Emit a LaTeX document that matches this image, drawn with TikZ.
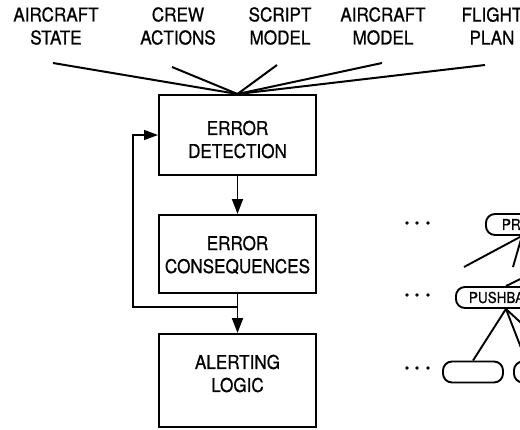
\documentclass[tikz,border=0pt]{standalone}
\usepackage{fontspec}
\setmainfont{TeX Gyre Heros}[FakeStretch=0.9,FakeBold=0.8]
\usetikzlibrary{arrows.meta}

\begin{document}
\begin{tikzpicture}[x=1pt,y=-1pt,
  lbl/.style={align=center,inner sep=0pt,font=\fontsize{19}{23}\selectfont},
  blk/.style={draw,line width=2pt,minimum width=157pt,inner sep=0pt},
  fan/.style={line width=2pt},
  arr/.style={line width=1.8pt,-{Triangle[length=15pt,width=11pt]}},
  fb/.style={line width=1.4pt,-{Triangle[length=14pt,width=10pt]}},
  pill/.style={draw,line width=1.9pt,rounded corners=9pt,minimum height=21pt,
    inner ysep=0pt,align=left,font=\fontsize{15}{16}\selectfont},
  branch/.style={line width=1.9pt},
  dot/.style={fill=black}]
\useasboundingbox (0,0) rectangle (520,429);
\clip (0,0) rectangle (520,429);

% input labels
\node[lbl] (in1) at (56,26)  {AIRCRAFT\\STATE};
\node[lbl] (in2) at (178,26) {CREW\\ACTIONS};
\node[lbl] (in3) at (280,26) {SCRIPT\\MODEL};
\node[lbl] (in4) at (383,26) {AIRCRAFT\\MODEL};
\node[lbl] (in5) at (492,26) {FLIGHT\\PLAN};

% processing blocks
\node[blk,minimum height=80pt] (det) at (237.5,135) {};
\node[lbl] (dett) at (237.5,139.5) {ERROR\\DETECTION};
\node[blk,minimum height=78pt] (con) at (237.5,254) {};
\node[lbl] (cont) at (237.5,255) {ERROR\\CONSEQUENCES};
\node[blk,minimum height=93pt] (alr) at (237.5,380.5) {};
\node[lbl] (alrt) at (237.5,373.5) {ALERTING\\LOGIC};

% fan-in lines
\coordinate (s1) at (53,63);
\coordinate (s2) at (172,67);
\coordinate (s3) at (277,65);
\coordinate (s4) at (382,63);
\coordinate (s5) at (485,65);
\foreach \s in {s1,s2,s3,s4,s5} \draw[fan] (\s) -- (det.north);

% flow arrows
\draw[arr] (det.south) -- (con.north);
\draw[arr] (con.south) -- (alr.north);

% feedback loop
\coordinate (j) at (237.5,307);
\coordinate (lp) at (133,307);
\draw[fb] (j) -- (lp) |- (det.west);

% procedure hierarchy
\foreach \y in {223,295,368}
  \foreach \x in {407,417,428}
    \fill[dot] (\x,\y) circle (1.9pt);

\node[pill,anchor=west,inner xsep=16pt,text width=40pt] (pre) at (485,224.5) {PRE};
\node[pill,anchor=west,inner xsep=13pt,text width=74pt] (push) at (455,297.5) {PUSHBACK};
\node[pill,minimum width=60pt] (r3a) at (473,372) {};
\node[pill,anchor=west,minimum width=60pt] (r3b) at (513,372) {};

\coordinate (h1) at (464,267);
\coordinate (h2) at (513,267);
\coordinate (h3) at (545,267);
\coordinate (h4) at (525,358);
\coordinate (h5) at (545,345);
\draw[branch] (pre.south) -- (h1);
\draw[branch] (pre.south) -- (h2);
\draw[branch] (push.north) -- (h3);
\draw[branch] (push.south) -- (r3a.north);
\draw[branch] (push.south) -- (h4);
\draw[branch] (push.south) -- (h5);
\end{tikzpicture}
\end{document}
